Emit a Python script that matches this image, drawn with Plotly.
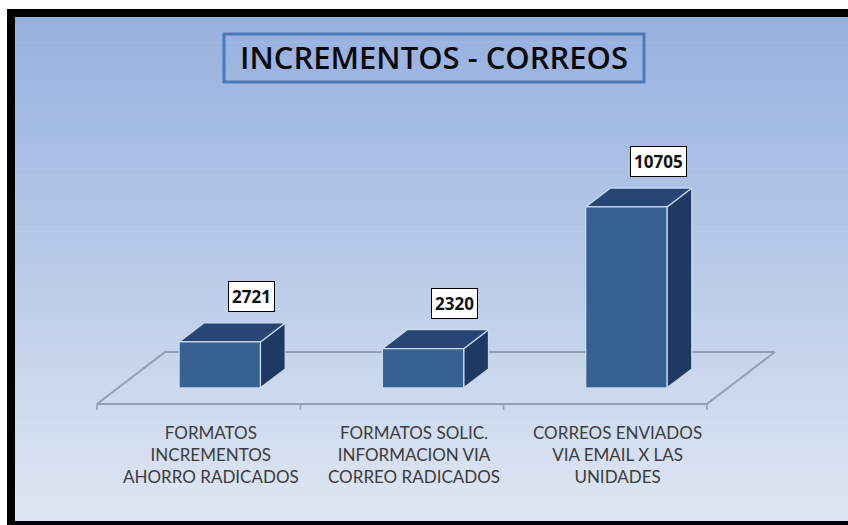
import plotly.graph_objects as go

# ---------------- data ----------------
categories = [
    "FORMATOS<br>INCREMENTOS<br>AHORRO RADICADOS",
    "FORMATOS SOLIC.<br>INFORMACION VIA<br>CORREO RADICADOS",
    "CORREOS ENVIADOS<br>VIA EMAIL X LAS<br>UNIDADES",
]
values = [2721, 2320, 10705]
title_text = "INCREMENTOS - CORREOS"

# ---------------- geometry / style ----------------
W, H = 848, 525
PX_PER_CAT = 203.3          # pixels per category
PX_PER_VAL = 0.0169         # pixels per value unit
X_LEFT_PX, Y_BASE_PX = 97, 404   # floor front-left corner in pixels

# axis ranges so that the figure maps to the full canvas
x0 = -0.5 - X_LEFT_PX / PX_PER_CAT
x1 = x0 + W / PX_PER_CAT
y1 = Y_BASE_PX / PX_PER_VAL
y0 = -(H - Y_BASE_PX) / PX_PER_VAL

# oblique projection of depth (0 = floor front, 1 = floor back)
DX = 68 / PX_PER_CAT
DY = 52 / PX_PER_VAL
D0, D1 = 0.31, 0.675
BAR_W = 0.40


def proj(x, v, d):
    return x + DX * d, v + DY * d


FRONT = "#376193"
TOP = "#274673"
SIDE = "#1F3A62"
EDGE = "rgba(205,220,240,0.95)"
FLOOR = "#929FB3"

fig = go.Figure()

# floor
n = len(values)
fl = [proj(-0.5, 0, 0), proj(n - 0.5, 0, 0), proj(n - 0.5, 0, 1), proj(-0.5, 0, 1), proj(-0.5, 0, 0)]
fig.add_trace(go.Scatter(x=[p[0] for p in fl], y=[p[1] for p in fl], mode="lines",
                         line=dict(color=FLOOR, width=2), hoverinfo="skip", showlegend=False))
# ticks on the front edge at category boundaries
tick_len = 6 / PX_PER_VAL
for b in range(n + 1):
    xb = b - 0.5
    fig.add_trace(go.Scatter(x=[xb, xb], y=[0, -tick_len], mode="lines",
                             line=dict(color=FLOOR, width=1.5), hoverinfo="skip", showlegend=False))


def poly(pts, color):
    xs = [p[0] for p in pts] + [pts[0][0]]
    ys = [p[1] for p in pts] + [pts[0][1]]
    fig.add_trace(go.Scatter(x=xs, y=ys, mode="lines", fill="toself", fillcolor=color,
                             line=dict(color=EDGE, width=1.3), hoverinfo="skip", showlegend=False))


for i, v in enumerate(values):
    xl, xr = i - BAR_W / 2, i + BAR_W / 2
    # side face
    poly([proj(xr, 0, D0), proj(xr, 0, D1), proj(xr, v, D1), proj(xr, v, D0)], SIDE)
    # top face
    poly([proj(xl, v, D0), proj(xr, v, D0), proj(xr, v, D1), proj(xl, v, D1)], TOP)
    # front face
    poly([proj(xl, 0, D0), proj(xr, 0, D0), proj(xr, v, D0), proj(xl, v, D0)], FRONT)

annotations = []
for i, v in enumerate(values):
    lx, ly = proj(i + 0.035, v, D1)
    annotations.append(dict(x=lx, y=ly, xref="x", yref="y", text=f"<b>{v}</b>", showarrow=False,
                            yanchor="bottom", yshift=11,
                            font=dict(family="Open Sans", size=17, color="#111111"),
                            bgcolor="white", bordercolor="black", borderwidth=1, borderpad=3))
    annotations.append(dict(x=i + 0.06, y=0, xref="x", yref="y", text=categories[i], showarrow=False,
                            yanchor="top", yshift=-16,
                            font=dict(family="Lato", size=17, color="#3C3C3C")))

annotations.append(dict(x=434 / W, y=1 - 57 / H, xref="paper", yref="paper", text=title_text,
                        showarrow=False, xanchor="center", yanchor="middle",
                        font=dict(family="Open Sans", size=31, color="#0A0A0A", weight=600)))

# background gradient and frame
shapes = []
top_c = (150, 176, 223)
bot_c = (222, 230, 243)
NB = 80
yt, yb = 17, 521
for k in range(NB):
    t = k / (NB - 1)
    c = tuple(round(top_c[j] + (bot_c[j] - top_c[j]) * t) for j in range(3))
    ya = yt + (yb - yt) * k / NB
    ybb = yt + (yb - yt) * (k + 1) / NB + 0.6
    shapes.append(dict(type="rect", xref="paper", yref="paper", x0=15 / W, x1=1.02,
                       y0=1 - ybb / H, y1=1 - ya / H, fillcolor=f"rgb{c}", line=dict(width=0),
                       layer="below"))
for (a, b, c, d) in [(7, 9, W + 10, 17), (7, 9, 15, H + 5), (7, 521, W + 10, H + 5)]:
    shapes.append(dict(type="rect", xref="paper", yref="paper", x0=a / W, x1=c / W,
                       y0=1 - d / H, y1=1 - b / H, fillcolor="black", line=dict(width=0),
                       layer="below"))
shapes.append(dict(type="rect", xref="paper", yref="paper", x0=224 / W, x1=644 / W,
                   y0=1 - 82 / H, y1=1 - 34 / H, line=dict(color="#4A7BB8", width=3),
                   fillcolor="rgba(0,0,0,0)", layer="above"))

fig.update_layout(
    width=W, height=H, margin=dict(l=0, r=0, t=0, b=0),
    paper_bgcolor="white", plot_bgcolor="rgba(0,0,0,0)",
    xaxis=dict(range=[x0, x1], visible=False, fixedrange=True),
    yaxis=dict(range=[y0, y1], visible=False, fixedrange=True),
    shapes=shapes, annotations=annotations, showlegend=False,
)

fig.write_html("out.html", config={"displayModeBar": False},
               post_script="document.body.style.margin='0';document.body.style.overflow='hidden';"
                           "document.documentElement.style.overflow='hidden';")
